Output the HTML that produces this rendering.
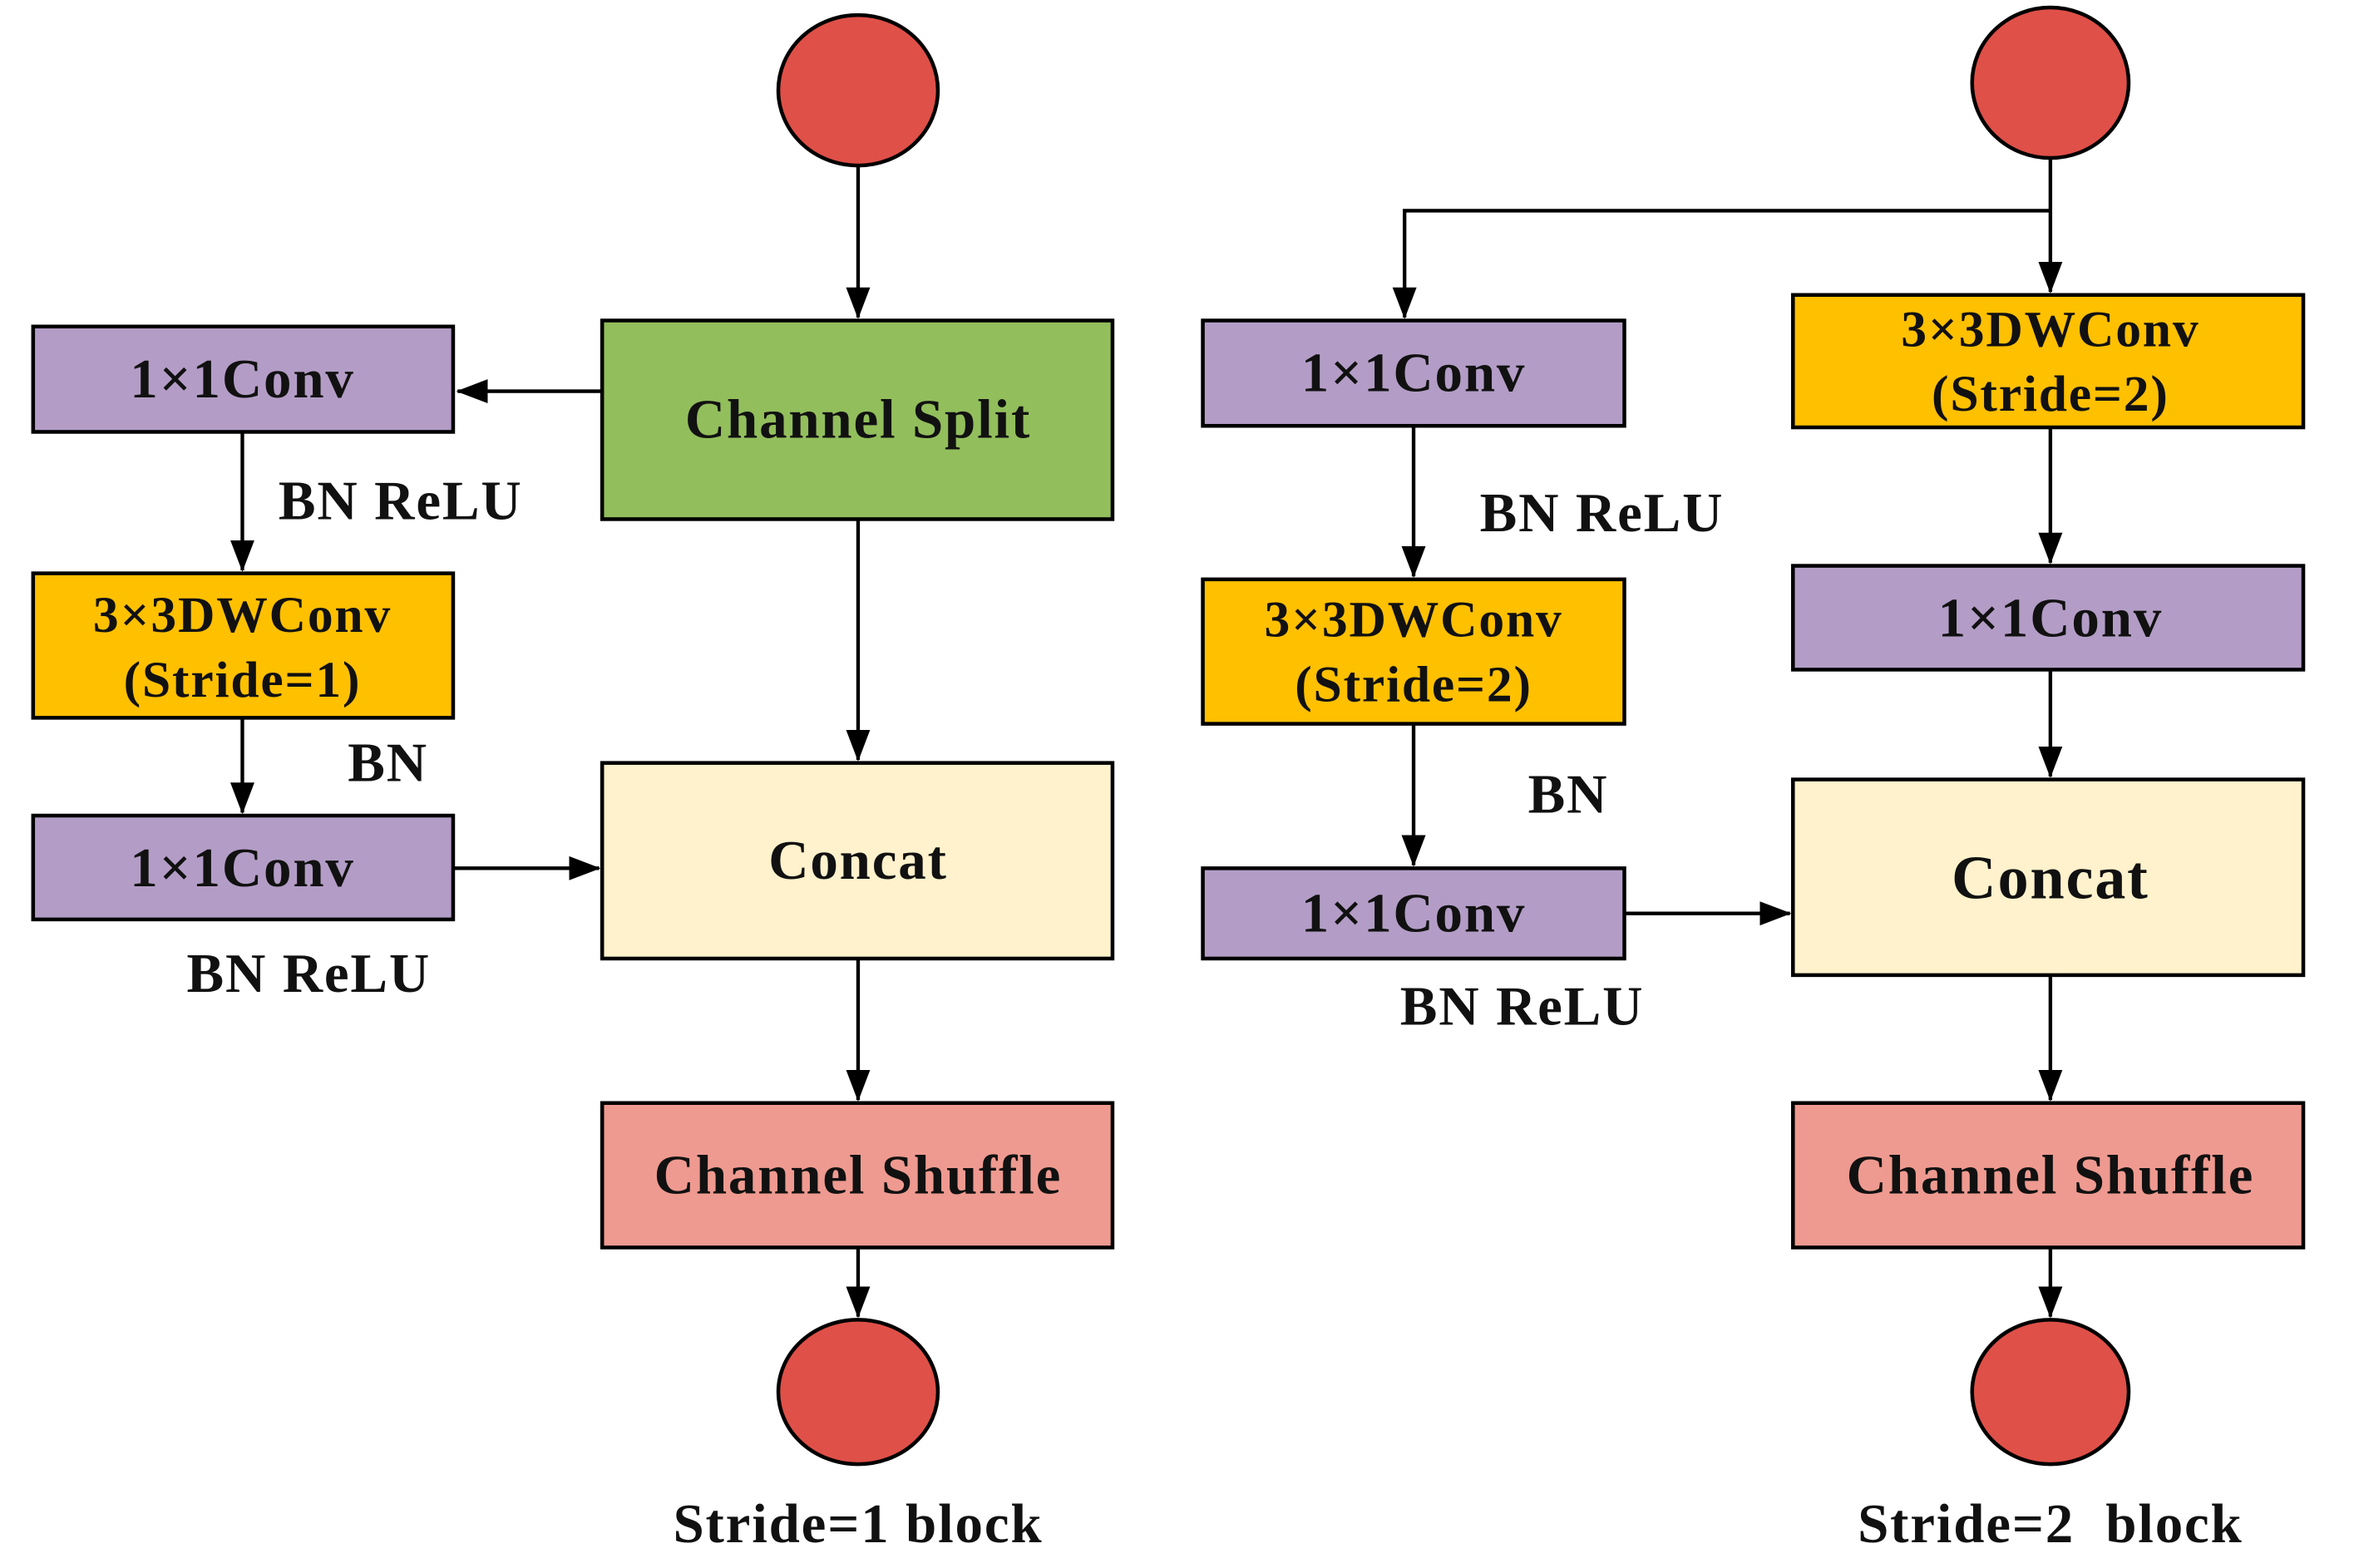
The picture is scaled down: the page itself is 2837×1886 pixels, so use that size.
<!DOCTYPE html>
<html><head><meta charset="utf-8"><style>
html,body{margin:0;padding:0;background:#fff;}
svg{display:block;}
text{font-family:"Liberation Serif",serif;font-weight:bold;fill:#111;}
</style></head><body>
<svg width="2837" height="1886" viewBox="0 0 1567 1042" preserveAspectRatio="none" xmlns="http://www.w3.org/2000/svg">
<defs>
<marker id="a" markerWidth="22" markerHeight="18" refX="20" refY="9" orient="auto" markerUnits="userSpaceOnUse" viewBox="0 0 22 18">
<path d="M0,1 L21,9 L0,17 z" fill="#000"/>
</marker>
</defs>
<g stroke="#000" stroke-width="2.4" fill="none">
<line x1="570" y1="110" x2="570" y2="211" marker-end="url(#a)"/>
<line x1="400" y1="260" x2="304" y2="260" marker-end="url(#a)"/>
<line x1="161" y1="288" x2="161" y2="379" marker-end="url(#a)"/>
<line x1="161" y1="478" x2="161" y2="540" marker-end="url(#a)"/>
<line x1="302" y1="577" x2="398" y2="577" marker-end="url(#a)"/>
<line x1="570" y1="346" x2="570" y2="505" marker-end="url(#a)"/>
<line x1="570" y1="638" x2="570" y2="731" marker-end="url(#a)"/>
<line x1="570" y1="830" x2="570" y2="875" marker-end="url(#a)"/>
<line x1="1362" y1="105" x2="1362" y2="194" marker-end="url(#a)"/>
<polyline points="1362,140 933,140 933,211" marker-end="url(#a)"/>
<line x1="939" y1="284" x2="939" y2="383" marker-end="url(#a)"/>
<line x1="939" y1="482" x2="939" y2="575" marker-end="url(#a)"/>
<line x1="1080" y1="607" x2="1189" y2="607" marker-end="url(#a)"/>
<line x1="1362" y1="285" x2="1362" y2="374" marker-end="url(#a)"/>
<line x1="1362" y1="446" x2="1362" y2="516" marker-end="url(#a)"/>
<line x1="1362" y1="649" x2="1362" y2="731" marker-end="url(#a)"/>
<line x1="1362" y1="830" x2="1362" y2="875" marker-end="url(#a)"/>
</g>
<g stroke="#000" stroke-width="2.5">
<ellipse cx="570" cy="60" rx="53" ry="50" fill="#DF5048"/>
<ellipse cx="570" cy="925" rx="53" ry="48" fill="#DF5048"/>
<ellipse cx="1362" cy="55" rx="52" ry="50" fill="#DF5048"/>
<ellipse cx="1362" cy="925" rx="52" ry="48" fill="#DF5048"/>
<rect x="400" y="213" width="339" height="132" fill="#92BE5C"/>
<rect x="22" y="217" width="279" height="70" fill="#B39DC6"/>
<rect x="22" y="381" width="279" height="96" fill="#FFC000"/>
<rect x="22" y="542" width="279" height="69" fill="#B39DC6"/>
<rect x="400" y="507" width="339" height="130" fill="#FFF2CC"/>
<rect x="400" y="733" width="339" height="96" fill="#EE9A90"/>
<rect x="799" y="213" width="280" height="70" fill="#B39DC6"/>
<rect x="799" y="385" width="280" height="96" fill="#FFC000"/>
<rect x="799" y="577" width="280" height="60" fill="#B39DC6"/>
<rect x="1191" y="196" width="339" height="88" fill="#FFC000"/>
<rect x="1191" y="376" width="339" height="69" fill="#B39DC6"/>
<rect x="1191" y="518" width="339" height="130" fill="#FFF2CC"/>
<rect x="1191" y="733" width="339" height="96" fill="#EE9A90"/>
</g>
<g font-size="37" text-anchor="middle" letter-spacing="1">
<text x="570" y="291">Channel Split</text>
<text x="161" y="264">1×1Conv</text>
<text x="161" y="420" font-size="34">3×3DWConv</text>
<text x="161" y="463" font-size="34">(Stride=1)</text>
<text x="161" y="589">1×1Conv</text>
<text x="570" y="584">Concat</text>
<text x="570" y="793">Channel Shuffle</text>
<text x="570" y="1025">Stride=1 block</text>
<text x="939" y="260">1×1Conv</text>
<text x="939" y="423" font-size="34">3×3DWConv</text>
<text x="939" y="466" font-size="34">(Stride=2)</text>
<text x="939" y="619">1×1Conv</text>
<text x="1362" y="230" font-size="34">3×3DWConv</text>
<text x="1362" y="273" font-size="34">(Stride=2)</text>
<text x="1362" y="423">1×1Conv</text>
<text x="1362" y="597" font-size="41">Concat</text>
<text x="1362" y="793">Channel Shuffle</text>
<text x="1362" y="1025" xml:space="preserve">Stride=2  block</text>
</g>
<g font-size="37" letter-spacing="1">
<text x="185" y="345">BN ReLU</text>
<text x="231" y="519">BN</text>
<text x="124" y="659">BN ReLU</text>
<text x="983" y="353">BN ReLU</text>
<text x="1015" y="540">BN</text>
<text x="930" y="681">BN ReLU</text>
</g>
</svg>
</body></html>
